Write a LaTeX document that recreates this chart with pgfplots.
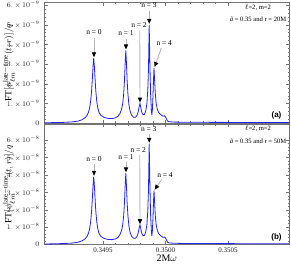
\documentclass[border=0pt]{standalone}
\usepackage{fontspec}
\setmainfont{Liberation Serif}
\newfontfamily\sansbold{Liberation Sans}
\usepackage{pgfplots}
\usepackage{pgfplotstable}
\pgfplotsset{compat=1.18}
\usetikzlibrary{arrows.meta}
\definecolor{curveblue}{RGB}{35,35,235}

\pgfplotstableread{
w f
0.349028 0.03e-9
0.349116 0.035e-9
0.349196 0.05e-9
0.349252 0.07e-9
0.349300 0.11e-9
0.349332 0.18e-9
0.349356 0.28e-9
0.349372 0.4e-9
0.349384 0.56e-9
0.3493936 0.8e-9
0.3494016 1.15e-9
0.3494088 1.65e-9
0.3494152 2.3e-9
0.3494208 2.95e-9
0.3494256 3.3e-9
0.3494304 2.95e-9
0.349436 2.3e-9
0.3494424 1.65e-9
0.3494496 1.15e-9
0.3494576 0.8e-9
0.349468 0.55e-9
0.349484 0.4e-9
0.349508 0.3e-9
0.34954 0.25e-9
0.349572 0.24e-9
0.3496 0.28e-9
0.34962 0.36e-9
0.349636 0.5e-9
0.349648 0.7e-9
0.3496576 1.0e-9
0.3496656 1.5e-9
0.349672 2.2e-9
0.3496776 3.1e-9
0.3496824 3.7e-9
0.3496872 3.1e-9
0.3496928 2.2e-9
0.3496992 1.5e-9
0.3497072 0.95e-9
0.3497168 0.62e-9
0.3497288 0.42e-9
0.349744 0.31e-9
0.34976 0.31e-9
0.349772 0.4e-9
0.3497816 0.58e-9
0.3497896 0.85e-9
0.349796 1.0e-9
0.3498024 0.8e-9
0.3498104 0.56e-9
0.34982 0.43e-9
0.349832 0.46e-9
0.3498424 0.65e-9
0.3498512 1.0e-9
0.3498584 1.7e-9
0.349864 2.8e-9
0.3498696 5.0e-9
0.3498752 3.0e-9
0.3498808 1.5e-9
0.3498864 0.75e-9
0.3498904 0.42e-9
0.3498952 0.7e-9
0.3499 1.4e-9
0.349904 2.2e-9
0.349908 2.8e-9
0.3499128 2.2e-9
0.3499184 1.5e-9
0.3499256 1.0e-9
0.3499344 0.72e-9
0.349944 0.56e-9
0.349956 0.47e-9
0.349968 0.41e-9
0.34998 0.36e-9
0.349992 0.38e-9
0.35 0.33e-9
0.350008 0.22e-9
0.350016 0.12e-9
0.350028 0.08e-9
0.350076 0.06e-9
0.350156 0.055e-9
0.350276 0.05e-9
0.350516 0.045e-9
0.350756 0.04e-9
0.350992 0.035e-9
}\toptable

\pgfplotstableread{
w f
0.349028 0.03e-8
0.349116 0.04e-8
0.349196 0.06e-8
0.349252 0.08e-8
0.349300 0.13e-8
0.349332 0.21e-8
0.349356 0.32e-8
0.349372 0.46e-8
0.349384 0.65e-8
0.3493936 0.93e-8
0.3494016 1.35e-8
0.3494088 1.93e-8
0.3494152 2.7e-8
0.3494208 3.45e-8
0.3494256 3.9e-8
0.3494304 3.45e-8
0.349436 2.7e-8
0.3494424 1.93e-8
0.3494496 1.35e-8
0.3494576 0.93e-8
0.349468 0.63e-8
0.349484 0.46e-8
0.349508 0.35e-8
0.34954 0.29e-8
0.349572 0.28e-8
0.3496 0.32e-8
0.34962 0.41e-8
0.349636 0.57e-8
0.349648 0.8e-8
0.3496576 1.12e-8
0.3496656 1.68e-8
0.349672 2.45e-8
0.3496776 3.45e-8
0.3496824 4.1e-8
0.3496872 3.45e-8
0.3496928 2.45e-8
0.3496992 1.68e-8
0.3497072 1.07e-8
0.3497168 0.7e-8
0.3497288 0.48e-8
0.349744 0.36e-8
0.34976 0.36e-8
0.349772 0.46e-8
0.3497816 0.66e-8
0.3497896 0.96e-8
0.349796 1.12e-8
0.3498024 0.9e-8
0.3498104 0.64e-8
0.34982 0.5e-8
0.349832 0.53e-8
0.3498424 0.75e-8
0.3498512 1.15e-8
0.3498584 1.95e-8
0.349864 3.2e-8
0.3498696 5.8e-8
0.3498752 3.45e-8
0.3498808 1.72e-8
0.3498864 0.86e-8
0.3498904 0.48e-8
0.3498952 0.8e-8
0.3499 1.55e-8
0.349904 2.45e-8
0.349908 3.1e-8
0.3499128 2.45e-8
0.3499184 1.66e-8
0.3499256 1.12e-8
0.3499344 0.82e-8
0.349944 0.64e-8
0.349956 0.54e-8
0.349968 0.47e-8
0.34998 0.41e-8
0.349992 0.43e-8
0.35 0.38e-8
0.350008 0.25e-8
0.350016 0.14e-8
0.350028 0.09e-8
0.350076 0.07e-8
0.350156 0.06e-8
0.350276 0.055e-8
0.350516 0.05e-8
0.350756 0.045e-8
0.350992 0.04e-8
}\bottomtable

\pgfplotsset{
  panel/.style={
    scale only axis, width=245.5pt,
    xmin=0.349028, xmax=0.350992, ymin=0,
    xtick={0.3495,0.35,0.3505},
    scaled x ticks=false, scaled y ticks=false,
    minor x tick num=4, minor y tick num=4,
    tick align=inside,
    major tick length=3.5pt, minor tick length=2pt,
    axis line style={black!55, line width=0.5pt},
    every tick/.style={black!55, line width=0.4pt},
    tick label style={font=\fontsize{7}{8}\selectfont, text=black!85},
    yticklabel style={xshift=-1pt},
    ylabel style={at={(axis description cs:-0.143,0.5)}, anchor=center, font=\fontsize{9.5}{11}\selectfont},
    clip=false,
  },
}
\tikzset{
  nlab/.style={font=\fontsize{7.5}{8}\selectfont, inner sep=0pt},
  arr/.style={black!28, line width=0.9pt, -{Triangle[length=5pt,width=4.2pt,color=black]}},
  corner/.style={font=\fontsize{6.6}{7}\selectfont, inner sep=0pt},
}
\newcommand{\tl}[2]{$#1.\,{\times}\,10^{-#2}$}

\begin{document}
\begin{tikzpicture}
\path[use as bounding box] (0pt,0pt) rectangle (291pt,269pt);

% top panel (a)
\begin{axis}[panel, height=120.8pt, at={(44pt,145.7pt)}, anchor=south west,
  ymax=6.13e-9,
  ytick={0,1e-9,2e-9,3e-9,4e-9,5e-9,6e-9},
  yticklabels={$0$,\tl{1}{9},\tl{2}{9},\tl{3}{9},\tl{4}{9},\tl{5}{9},\tl{6}{9}},
  xticklabels={},
  ylabel={$\mathrm{FT}[\phi^{\mathrm{late{-}time}}_{\ell m}(t,r)]/q$},
]
\addplot[curveblue, line width=0.8pt] table[x=w, y=f] {\toptable};
\node[nlab] at (axis cs:0.349428,4.62e-9) {n = 0};
\draw[arr] (axis cs:0.349428,4.32e-9) -- (axis cs:0.349428,3.35e-9);
\node[nlab] at (axis cs:0.349684,4.57e-9) {n = 1};
\draw[arr] (axis cs:0.349684,4.27e-9) -- (axis cs:0.349684,3.75e-9);
\node[nlab] at (axis cs:0.349788,4.99e-9) {n = 2};
\draw[arr] (axis cs:0.349794,4.69e-9) -- (axis cs:0.349796,1.05e-9);
\node[nlab] at (axis cs:0.349868,5.98e-9) {n = 3};
\draw[arr] (axis cs:0.34987,5.68e-9) -- (axis cs:0.34987,5.05e-9);
\node[nlab] at (axis cs:0.349990,4.08e-9) {n = 4};
\draw[arr] (axis cs:0.349966,3.82e-9) -- (axis cs:0.349913,2.85e-9);
\node[corner] at (rel axis cs:0.872,0.960) {$\ell$=2, m=2};
\node[corner] at (rel axis cs:0.872,0.860) {\textit{ã} = 0.35 and r = 20M};
\node[font=\sansbold\bfseries\fontsize{8}{9}\selectfont, inner sep=0pt] at (rel axis cs:0.947,0.069) {(a)};
\end{axis}

% bottom panel (b)
\begin{axis}[panel, height=120.5pt, at={(44pt,24.5pt)}, anchor=south west,
  ymax=6.93e-8,
  ytick={0,1e-8,2e-8,3e-8,4e-8,5e-8,6e-8},
  yticklabels={$0$,\tl{1}{8},\tl{2}{8},\tl{3}{8},\tl{4}{8},\tl{5}{8},\tl{6}{8}},
  xticklabels={0.3495,0.3500,0.3505},
  ylabel={$\mathrm{FT}[\phi^{\mathrm{late{-}time}}_{\ell m}(t,r)]/q$},
  xlabel={2M$\omega$},
  xlabel style={at={(axis description cs:0.5,-0.116)}, anchor=center, font=\fontsize{10}{12}\selectfont},
]
\addplot[curveblue, line width=0.8pt] table[x=w, y=f] {\bottomtable};
\node[nlab] at (axis cs:0.349428,4.9e-8) {n = 0};
\draw[arr] (axis cs:0.349428,4.62e-8) -- (axis cs:0.349428,3.95e-8);
\node[nlab] at (axis cs:0.349684,5.05e-8) {n = 1};
\draw[arr] (axis cs:0.349684,4.77e-8) -- (axis cs:0.349684,4.15e-8);
\node[nlab] at (axis cs:0.349782,5.43e-8) {n = 2};
\draw[arr] (axis cs:0.349794,5.15e-8) -- (axis cs:0.349796,1.17e-8);
\node[nlab] at (axis cs:0.349866,6.64e-8) {n = 3};
\draw[arr] (axis cs:0.34987,6.37e-8) -- (axis cs:0.34987,5.85e-8);
\node[nlab] at (axis cs:0.349996,3.99e-8) {n = 4};
\draw[arr] (axis cs:0.349970,3.74e-8) -- (axis cs:0.349913,3.15e-8);
\node[corner] at (rel axis cs:0.872,0.960) {$\ell$=2, m=2};
\node[corner] at (rel axis cs:0.872,0.860) {\textit{ã} = 0.35 and r = 50M};
\node[font=\sansbold\bfseries\fontsize{8}{9}\selectfont, inner sep=0pt] at (rel axis cs:0.947,0.062) {(b)};
\end{axis}
\end{tikzpicture}
\end{document}
